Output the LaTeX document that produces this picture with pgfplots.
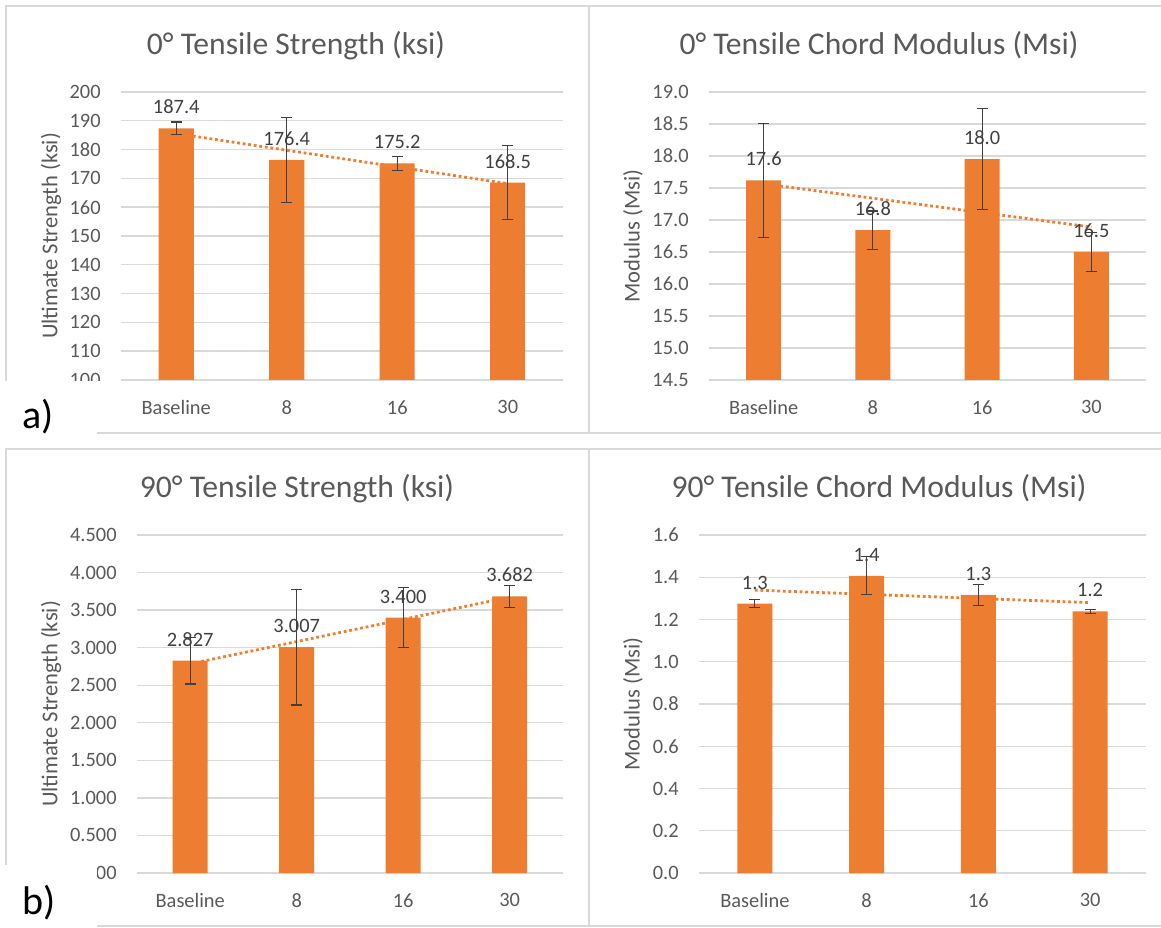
\documentclass[border=0pt]{standalone}
\usepackage{fontspec}
\setmainfont{Carlito}
\usepackage{pgfplots}
\usepackage{pgfplotstable}
\pgfplotsset{compat=1.18}

\definecolor{barorange}{HTML}{ED7D31}
\definecolor{txtgrey}{HTML}{595959}
\definecolor{gridgrey}{HTML}{D9D9D9}
\definecolor{errgrey}{HTML}{404040}
\definecolor{framegrey}{HTML}{D9D9D9}

% mean value (v) and half-width of the error bar (e) per panel
\pgfplotstableread{
x v e
0 187.4 2.2
1 176.4 14.8
2 175.2 2.5
3 168.5 12.9
}\tensileZero

\pgfplotstableread{
x v e
0 17.62 0.89
1 16.84 0.30
2 17.95 0.79
3 16.50 0.30
}\modulusZero

\pgfplotstableread{
x v e
0 2.827 0.31
1 3.007 0.77
2 3.400 0.40
3 3.682 0.145
}\tensileNinety

\pgfplotstableread{
x v e
0 1.275 0.018
1 1.407 0.090
2 1.317 0.050
3 1.239 0.010
}\modulusNinety

\pgfplotsset{
  panel/.style={
    scale only axis,
    anchor=south west,
    xmin=-0.5, xmax=3.5,
    xtick={0,1,2,3},
    xticklabels={Baseline,8,16,30},
    axis line style={draw=none},
    major tick length=0pt,
    ymajorgrids,
    grid style={gridgrey, line width=0.7pt},
    tick label style={font=\fontsize{10.2}{12}\selectfont, text=txtgrey},
    /pgf/number format/assume math mode=true,
    yticklabel style={anchor=east, inner sep=0pt, xshift=-10pt},
    xticklabel style={anchor=north, inner sep=0pt, yshift=-10pt},
    label style={font=\fontsize{11.3}{13}\selectfont, text=txtgrey},
    clip mode=individual,
  },
  bars/.style={
    ybar, bar width=17.5pt, bar shift=0pt,
    fill=barorange, draw=none,
    nodes near coords={\pgfmathprintnumber[fixed,fixed zerofill,precision=#1,assume math mode=true]{\pgfplotspointmeta}},
    every node near coord/.append style={font=\fontsize{10.2}{12}\selectfont,
      text=errgrey, anchor=south, inner sep=0pt, yshift=7pt},
    error bars/.cd,
      y dir=both, y explicit,
      error bar style={errgrey, line width=0.6pt},
      error mark options={rotate=90, errgrey, mark size=2.8pt, line width=0.6pt},
  },
  trend/.style={
    barorange, line width=1.4pt,
    dash pattern=on 1.4pt off 1.4pt, no marks,
  },
}

\newcommand{\paneltitle}[3]{%
  \node[anchor=base, text=txtgrey, font=\fontsize{15.8}{18}\selectfont] at (#1,#2) {#3};}

\begin{document}
\begin{tikzpicture}
\useasboundingbox (0,0) rectangle (580.5pt,463.5pt);
\clip (0,0) rectangle (580.5pt,463.5pt);

% chart frames
\draw[framegrey, line width=1.2pt] (3pt,460.5pt) rectangle (294.5pt,247pt);
\draw[framegrey, line width=1.2pt] (294.5pt,460.5pt) rectangle (590pt,247pt);
\draw[framegrey, line width=1.2pt] (3pt,239pt) rectangle (294.5pt,0.5pt);
\draw[framegrey, line width=1.2pt] (294.5pt,239pt) rectangle (590pt,0.5pt);

% titles
\paneltitle{148pt}{436pt}{0° Tensile Strength (ksi)}
\paneltitle{439.5pt}{436pt}{0° Tensile Chord Modulus (Msi)}
\paneltitle{148.5pt}{214.5pt}{90° Tensile Strength (ksi)}
\paneltitle{439.5pt}{214.5pt}{90° Tensile Chord Modulus (Msi)}

% 0 deg tensile strength
\begin{axis}[panel, at={(60.5pt,273.5pt)}, width=221pt, height=144pt,
  ymin=100, ymax=200, ytick distance=10,
  ylabel={Ultimate Strength (ksi)},
  ylabel style={at={(axis description cs:-0.158,0.5)}, anchor=center}]
\addplot[trend] table[x=x, y={create col/linear regression={y=v}}] {\tensileZero};
\addplot[bars=1] table[x=x, y=v, y error=e] {\tensileZero};
\end{axis}

% 0 deg chord modulus
\begin{axis}[panel, at={(354.5pt,273.5pt)}, width=218.5pt, height=144pt,
  ymin=14.5, ymax=19, ytick={14.5,15,...,19},
  yticklabel style={/pgf/number format/.cd, fixed, fixed zerofill, precision=1},
  ylabel={Modulus (Msi)},
  ylabel style={at={(axis description cs:-0.174,0.5)}, anchor=center}]
\addplot[trend] table[x=x, y={create col/linear regression={y=v}}] {\modulusZero};
\addplot[bars=1] table[x=x, y=v, y error=e] {\modulusZero};
\end{axis}

% 90 deg tensile strength
\begin{axis}[panel, at={(68.5pt,27pt)}, width=213pt, height=169pt,
  ymin=0, ymax=4.5, ytick={0,0.5,...,4.5},
  yticklabel style={/pgf/number format/.cd, fixed, fixed zerofill, precision=3},
  ylabel={Ultimate Strength (ksi)},
  ylabel style={at={(axis description cs:-0.202,0.5)}, anchor=center}]
\addplot[trend] table[x=x, y={create col/linear regression={y=v}}] {\tensileNinety};
\addplot[bars=3] table[x=x, y=v, y error=e] {\tensileNinety};
\end{axis}

% 90 deg chord modulus
\begin{axis}[panel, at={(349.5pt,27pt)}, width=223.5pt, height=169pt,
  ymin=0, ymax=1.6, ytick={0,0.2,...,1.6},
  yticklabel style={/pgf/number format/.cd, fixed, fixed zerofill, precision=1},
  ylabel={Modulus (Msi)},
  ylabel style={at={(axis description cs:-0.148,0.5)}, anchor=center}]
\addplot[trend] table[x=x, y={create col/linear regression={y=v}}] {\modulusNinety};
\addplot[bars=1] table[x=x, y=v, y error=e] {\modulusNinety};
\end{axis}

% sub-figure tags
\fill[white] (0pt,240pt) rectangle (48.5pt,273pt);
\fill[white] (48.5pt,248pt) rectangle (52.5pt,273pt);
\node[font=\fontsize{20}{24}\selectfont, text=black] at (19pt,255pt) {a)};
\fill[white] (0pt,0pt) rectangle (48.5pt,31pt);
\node[font=\fontsize{20}{24}\selectfont, text=black] at (19.5pt,12pt) {b)};
\end{tikzpicture}
\end{document}
